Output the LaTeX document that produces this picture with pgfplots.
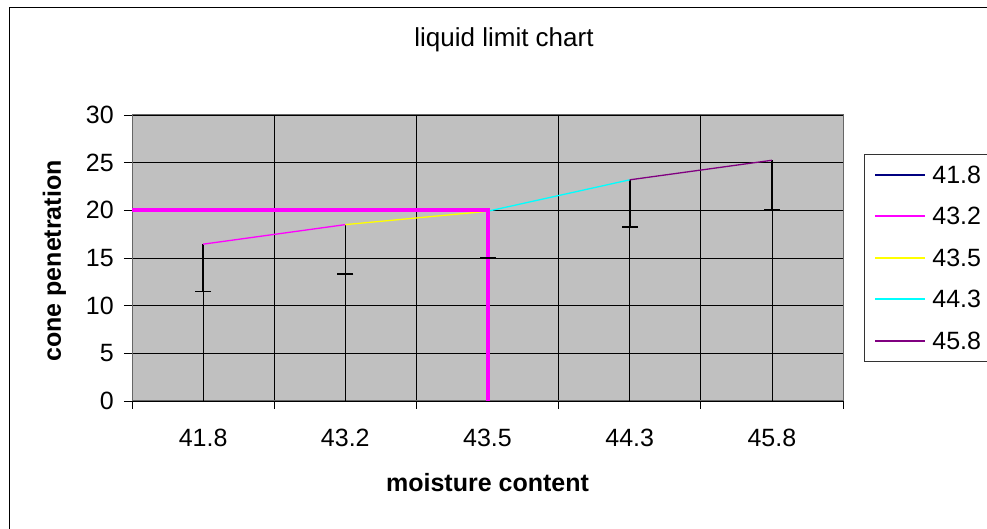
\documentclass[border=0pt]{standalone}
\usepackage{fontspec}
\setmainfont{Liberation Sans}
\usepackage{pgfplots}
\pgfplotsset{compat=1.18}
\definecolor{plotgray}{RGB}{192,192,192}
\definecolor{exnavy}{RGB}{0,0,128}
\definecolor{expurple}{RGB}{128,0,128}
\definecolor{exmagenta}{RGB}{255,0,255}
\definecolor{exyellow}{RGB}{255,255,0}
\definecolor{excyan}{RGB}{0,255,255}
\begin{document}
\begin{tikzpicture}
\useasboundingbox (0pt,0pt) rectangle (987pt,529pt);
\clip (0pt,0pt) rectangle (987pt,529pt);
\draw[line width=1.5pt] (9.5pt,-20pt) rectangle (1020pt,521.5pt);
\node[anchor=base, font=\fontsize{26}{30}\selectfont] at (504pt,482pt) {liquid limit chart};
\begin{axis}[
  scale only axis, width=711pt, height=286pt,
  at={(132pt,128pt)}, anchor=south west,
  xmin=-0.5, xmax=4.5, ymin=0, ymax=30,
  xtick={-0.5,0.5,1.5,2.5,3.5,4.5}, xticklabels={},
  extra x ticks={0,1,2,3,4},
  extra x tick labels={41.8,43.2,43.5,44.3,45.8},
  extra x tick style={grid=none, major tick length=0pt,
     xticklabel style={anchor=base, yshift=-46pt}},
  ytick={0,5,...,30},
  xtick pos=bottom, ytick pos=left, tick align=outside, major tick length=8pt,
  tick style={black, line width=0.8pt},
  xmajorgrids, ymajorgrids, grid style={black, line width=0.8pt},
  axis background/.style={fill=plotgray},
  axis line style={line width=1pt, black!60},
  /pgf/number format/assume math mode=true,
  tick label style={font=\fontsize{25}{30}\selectfont},
  yticklabel style={anchor=east, inner sep=0pt, xshift=-10pt},
  xlabel={moisture content},
  ylabel={cone penetration},
  xlabel style={font=\bfseries\fontsize{25}{30}\selectfont, at={(axis description cs:0.5,-0.318)}, anchor=base},
  ylabel style={font=\bfseries\fontsize{25}{30}\selectfont, at={(axis description cs:-0.1,0.4895)}, anchor=base},
  legend image code/.code={\draw[#1, line width=2pt] (0pt,0pt) -- (50pt,0pt);},
  legend cell align=left,
  legend style={at={(axis description cs:1.0295,0.8636)}, anchor=north west,
     draw=black!80, line width=0.8pt, fill=white,
     inner xsep=10pt, inner ysep=12pt, row sep=24.5pt, column sep=6pt,
     nodes={inner sep=0pt, text height=17pt, text depth=0pt, text width=80pt, align=left,
            font=\fontsize{25}{30}\selectfont}},
]
% drop lines
\addplot[ycomb, black, line width=0.8pt, forget plot] coordinates {(0,16.45) (1,18.5) (2,19.9) (3,23.2) (4,25.25)};
% error bars (minus only): bar bodies
\addplot[black, line width=1.6pt, forget plot] coordinates {(0,16.45) (0,11.5)};
\addplot[black, line width=1.6pt, forget plot] coordinates {(1,18.5) (1,13.35)};
\addplot[black, line width=1.6pt, forget plot] coordinates {(2,19.9) (2,15.0)};
\addplot[black, line width=1.6pt, forget plot] coordinates {(3,23.2) (3,18.25)};
\addplot[black, line width=1.6pt, forget plot] coordinates {(4,25.25) (4,20.1)};
% error bar caps
\addplot[only marks, black, mark=-, mark size=8pt, mark options={line width=1.6pt}, forget plot]
  coordinates {(0,11.5) (1,13.35) (2,15.0) (3,18.25) (4,20.1)};
\addlegendimage{exnavy}
\addlegendentry{41.8}
\addplot[exmagenta, line width=1.3pt] coordinates {(0,16.45) (1,18.5)};
\addlegendentry{43.2}
\addplot[exyellow, line width=1.3pt] coordinates {(1,18.5) (2,19.9)};
\addlegendentry{43.5}
\addplot[excyan, line width=1.3pt] coordinates {(2,19.9) (3,23.2)};
\addlegendentry{44.3}
\addplot[expurple, line width=1.3pt] coordinates {(3,23.2) (4,25.25)};
\addlegendentry{45.8}
% liquid limit reference line
\addplot[exmagenta, line width=4pt, forget plot] coordinates {(-0.5,20) (2,20) (2,0)};
\end{axis}
\end{tikzpicture}
\end{document}
